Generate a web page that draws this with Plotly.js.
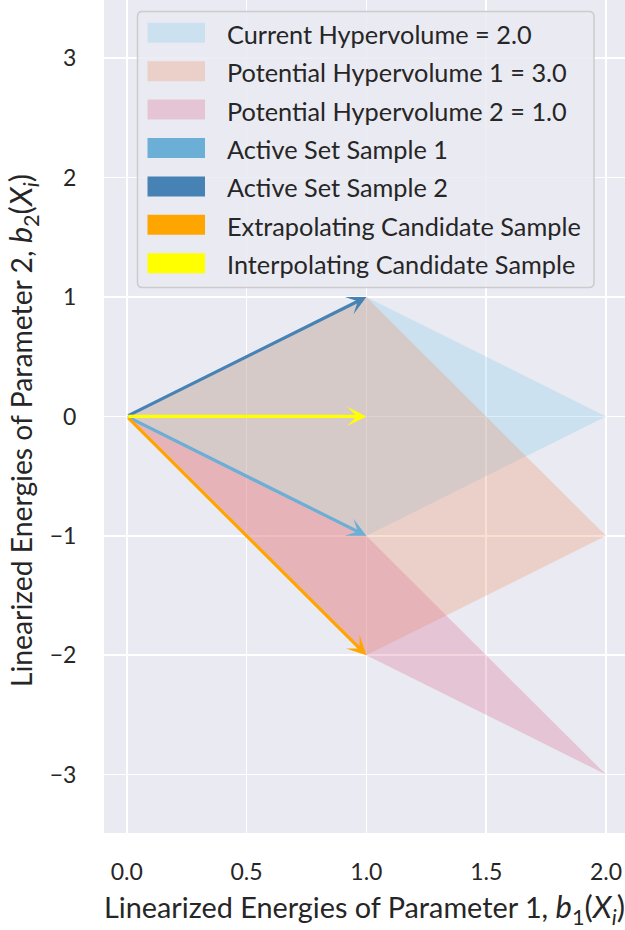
<!DOCTYPE html>
<html>
<head>
<meta charset="utf-8">
<script src="https://cdn.plot.ly/plotly-3.0.1.min.js"></script>
<style>
  html, body { margin: 0; padding: 0; background: #ffffff; }
  #chart { width: 625px; height: 930px; }
</style>
</head>
<body>
<div id="chart"></div>
<script>
// Sample vectors (b1, b2) drawn as arrows from the origin
const arrowNames = ["Active Set Sample 1", "Active Set Sample 2",
                    "Extrapolating Candidate Sample", "Interpolating Candidate Sample"];
const arrowX = [1, 1, 1, 1];
const arrowY = [-1, 1, -2, 0];
const arrowColors = ["#6baed6", "#4682b4", "#ffa500", "#ffff00"];

// Hypervolume parallelograms (vertices in data space)
const regionNames = ["Current Hypervolume", "Potential Hypervolume 1", "Potential Hypervolume 2"];
const currentX = [0, 1, 2, 1];
const currentY = [0, 1, 0, -1];
const potential1X = [0, 1, 2, 1];
const potential1Y = [0, 1, -1, -2];
const potential2X = [0, 1, 2, 1];
const potential2Y = [0, -1, -3, -2];
const regionColors = ["rgba(135,206,235,0.3)", "rgba(240,150,110,0.3)", "rgba(219,112,147,0.3)"];

const xTicks = [0, 0.5, 1, 1.5, 2];
const yTicks = [-3, -2, -1, 0, 1, 2, 3];

// Shoelace area, used for the legend labels
function polyArea(xs, ys) {
  let s = 0;
  for (let i = 0; i < xs.length; i++) {
    const j = (i + 1) % xs.length;
    s += xs[i] * ys[j] - xs[j] * ys[i];
  }
  return Math.abs(s) / 2;
}

const regions = [[currentX, currentY], [potential1X, potential1Y], [potential2X, potential2Y]];
const regionLabels = regions.map((r, i) => regionNames[i] + " = " + polyArea(r[0], r[1]).toFixed(1));

const traces = regions.map((r, i) => ({
  type: "scatter",
  mode: "lines",
  x: r[0].concat([r[0][0]]),
  y: r[1].concat([r[1][0]]),
  fill: "toself",
  fillcolor: regionColors[i],
  line: { width: 0, color: "rgba(0,0,0,0)" },
  hoverinfo: "skip",
  showlegend: false
}));

// Figure geometry (pixels)
const W = 625, H = 930;
const M = { l: 104, r: 0, t: 0, b: 97 };
const PW = W - M.l - M.r, PH = H - M.t - M.b;
const px2x = p => (p - M.l) / PW;
const px2y = p => 1 - (p - M.t) / PH;

const FONT = "Lato, 'Open Sans', sans-serif";
const TXT = "#262626";

// Arrows
const annotations = arrowX.map((x, i) => ({
  x: x, y: arrowY[i], xref: "x", yref: "y",
  ax: 0, ay: 0, axref: "x", ayref: "y",
  text: "", showarrow: true,
  arrowhead: 3, arrowsize: 1.0, arrowwidth: 3.2,
  arrowcolor: arrowColors[i], standoff: 0, startstandoff: 0
}));

// Legend: frame, swatches and labels
const legendLabels = regionLabels.concat(arrowNames);
const legendColors = regionColors.concat(arrowColors);
const box = { x0: 137.5, x1: 594, y0: 11.5, y1: 287.5, r: 5 };
function roundedRect(b) {
  const X = px2x, Y = px2y;
  return "M" + X(b.x0 + b.r) + "," + Y(b.y0) +
    " L" + X(b.x1 - b.r) + "," + Y(b.y0) +
    " Q" + X(b.x1) + "," + Y(b.y0) + " " + X(b.x1) + "," + Y(b.y0 + b.r) +
    " L" + X(b.x1) + "," + Y(b.y1 - b.r) +
    " Q" + X(b.x1) + "," + Y(b.y1) + " " + X(b.x1 - b.r) + "," + Y(b.y1) +
    " L" + X(b.x0 + b.r) + "," + Y(b.y1) +
    " Q" + X(b.x0) + "," + Y(b.y1) + " " + X(b.x0) + "," + Y(b.y1 - b.r) +
    " L" + X(b.x0) + "," + Y(b.y0 + b.r) +
    " Q" + X(b.x0) + "," + Y(b.y0) + " " + X(b.x0 + b.r) + "," + Y(b.y0) + " Z";
}
const shapes = [{
  type: "path", xref: "paper", yref: "paper", path: roundedRect(box),
  fillcolor: "rgba(234,234,242,0.85)", line: { color: "#cccccc", width: 1.5 }, layer: "above"
}];
const rowY0 = 32.8, rowStep = 38.4;
legendLabels.forEach((lab, i) => {
  const cy = rowY0 + i * rowStep;
  shapes.push({
    type: "rect", xref: "paper", yref: "paper",
    x0: px2x(147.5), x1: px2x(205), y0: px2y(cy - 10), y1: px2y(cy + 10),
    fillcolor: legendColors[i], line: { width: 0 }, layer: "above"
  });
  annotations.push({
    xref: "paper", yref: "paper", x: px2x(225), y: px2y(cy + 1),
    xanchor: "left", yanchor: "middle", showarrow: false,
    text: lab, font: { family: FONT, size: 25.3, color: TXT }
  });
});

const math = (k) => '<span style="font-size:31px"><i>b</i><sub>' + k +
  '</sub>(<i>X</i><sub><i>i</i></sub>)</span>';

// Vertical axis title, placed as a rotated annotation
annotations.push({
  xref: "paper", yref: "paper", x: px2x(23), y: px2y(431),
  xanchor: "center", yanchor: "middle", textangle: -90, showarrow: false,
  text: "Linearized Energies of Parameter 2, " + math(2),
  font: { family: FONT, size: 28.3, color: TXT }
});

const layout = {
  width: W, height: H,
  margin: M,
  paper_bgcolor: "#ffffff",
  plot_bgcolor: "#eaeaf2",
  font: { family: FONT, color: TXT },
  showlegend: false,
  xaxis: {
    range: [-0.0948, 2.0793],
    tickvals: xTicks, ticktext: xTicks.map(v => v.toFixed(1)),
    showgrid: true, gridcolor: "#ffffff", gridwidth: 1.6,
    zeroline: false, showline: false,
    ticks: "outside", ticklen: 18, tickcolor: "rgba(0,0,0,0)",
    tickfont: { family: FONT, size: 23, color: TXT },
    title: { text: "Linearized Energies of Parameter 1, " + math(1),
             font: { family: FONT, size: 28.8, color: TXT }, standoff: 22 },
    fixedrange: true
  },
  yaxis: {
    range: [-3.489, 3.488],
    tickvals: yTicks,
    showgrid: true, gridcolor: "#ffffff", gridwidth: 1.6,
    zeroline: false, showline: false,
    ticks: "outside", ticklen: 22, tickcolor: "rgba(0,0,0,0)",
    tickfont: { family: FONT, size: 23, color: TXT },
    fixedrange: true
  },
  shapes: shapes,
  annotations: annotations
};

Plotly.newPlot("chart", traces, layout, { displayModeBar: false, staticPlot: true });
</script>
</body>
</html>
